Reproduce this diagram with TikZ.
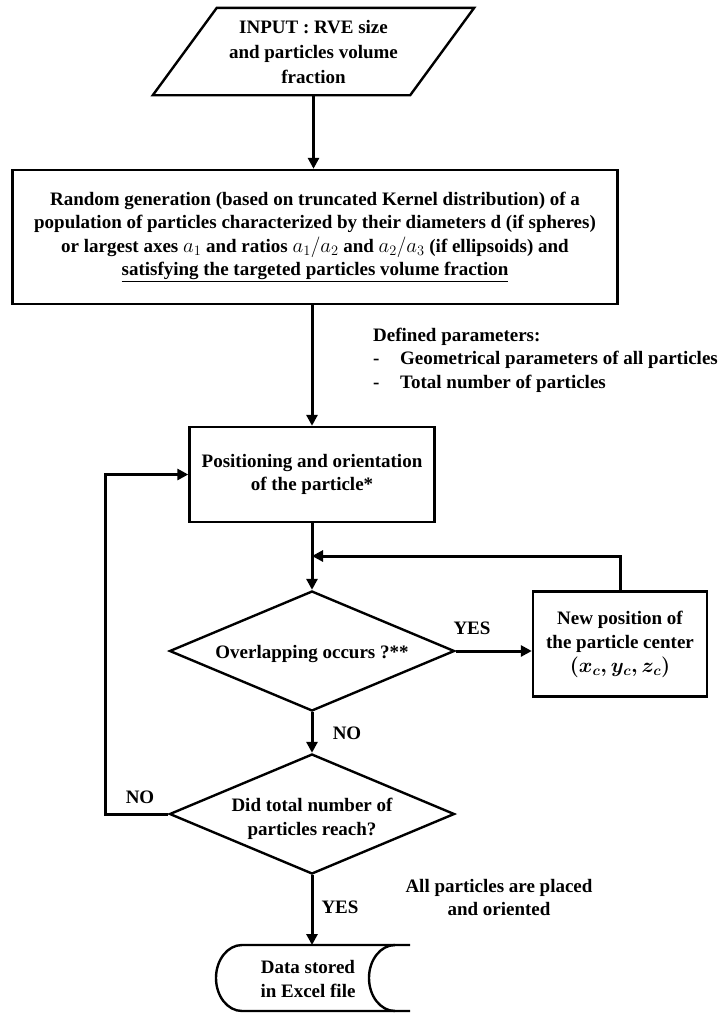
\documentclass[tikz,border=0pt]{standalone}
\usepackage{fontspec}
\setmainfont{Liberation Serif}
\usetikzlibrary{shapes.geometric,arrows.meta,calc}
\newcommand\mymth[1]{{\fontsize{21}{23.5}\selectfont$#1$}}
\begin{document}
\begin{tikzpicture}[x=1pt,y=1pt,
  font=\fontsize{19}{23.5}\selectfont\bfseries,
  box/.style={draw, line width=2.4pt, align=center, inner sep=0pt},
  conn/.style={line width=3pt, -{Triangle[length=11pt,width=11pt]}},
  dia/.style={draw, diamond, line width=2.4pt, align=center, inner sep=0pt,
    minimum width=285pt, minimum height=120pt, aspect=2.375},
  lbl/.style={inner sep=0pt}
]
\useasboundingbox (0,0) rectangle (718,-1013);

% input parallelogram
\node[align=center, minimum width=257pt, minimum height=87pt, inner sep=0pt,
      font=\fontsize{19}{25}\selectfont\bfseries] (inp) at (313.5,-51.5)
  {INPUT : RVE size\\and particles volume\\fraction};
\draw[line width=2.4pt] ($(inp.north west)+(32,0)$) -- ($(inp.north east)+(32,0)$)
  -- ($(inp.south east)+(-32,0)$) -- ($(inp.south west)+(-32,0)$) -- cycle;

% generation box
\node[box, minimum width=605pt, minimum height=134pt] (gen) at (315,-237)
  {Random generation (based on truncated Kernel distribution) of a\\
   population of particles characterized by their diameters d (if spheres)\\
   or largest axes \mymth{a_1} and ratios \mymth{a_1/a_2} and \mymth{a_2/a_3} (if ellipsoids) and\\
   \underline{satisfying the targeted particles volume fraction}};

% defined parameters
\node[anchor=west, align=left, lbl] (defp) at (373,-360)
  {Defined parameters:\\
   \makebox[27pt][l]{-}Geometrical parameters of all particles\\
   \makebox[27pt][l]{-}Total number of particles};

% positioning box
\node[box, minimum width=245pt, minimum height=95pt] (pos) at (312,-474.5)
  {Positioning and orientation\\of the particle*};

% overlap decision
\node[dia] (d1) at (312,-651) {\rule{0pt}{19pt}Overlapping occurs ?**};

% new position box
\node[box, minimum width=174pt, minimum height=105pt,
      font=\fontsize{19}{24}\selectfont\bfseries] (np) at (620,-644)
  {New position of\\the particle center\\{\boldmath\mymth{(x_c,y_c,z_c)}}};

% total number decision
\node[dia] (d2) at (312,-814) {\rule{0pt}{23pt}Did total number of\\particles reach?};

% storage
\node[align=center, lbl, font=\fontsize{19}{24}\selectfont\bfseries] (store) at (308,-979)
  {Data stored\\in Excel file};
\draw[line width=2.4pt] ($(store.center)+(102,34)$) -- ($(store.center)+(-66,34)$)
  arc[start angle=90, end angle=270, x radius=26, y radius=33]
  -- ($(store.center)+(102,-32)$);
\draw[line width=2.4pt] ($(store.center)+(87,34)$)
  arc[start angle=90, end angle=270, x radius=26, y radius=33];
\coordinate (st) at ($(store.center)+(0,34)$);

% labels
\node[lbl] (yes1) at (472,-628) {YES};
\node[lbl] (no1) at (347,-733) {NO};
\node[lbl] (no2) at (140,-797) {NO};
\node[lbl] (yes2) at (340,-907) {YES};
\node[align=center, lbl] (allp) at (499,-897.5) {All particles are placed\\and oriented};

% connectors
\coordinate (fb) at (312,-556);
\coordinate (lp) at (105,-814);
\draw[conn] (inp.south) -- (inp.south |- gen.north);
\draw[conn] (gen.south -| pos.north) -- (pos.north);
\draw[conn] (pos.south) -- (d1.north);
\draw[conn] (d1.east) -- (d1.east -| np.west);
\draw[conn] (np.north) |- (fb);
\draw[conn] (d1.south) -- (d2.north);
\draw[conn] (d2.west) -- (lp) |- (pos.west);
\draw[conn] (d2.south) -- (d2.south |- st);
\end{tikzpicture}
\end{document}
